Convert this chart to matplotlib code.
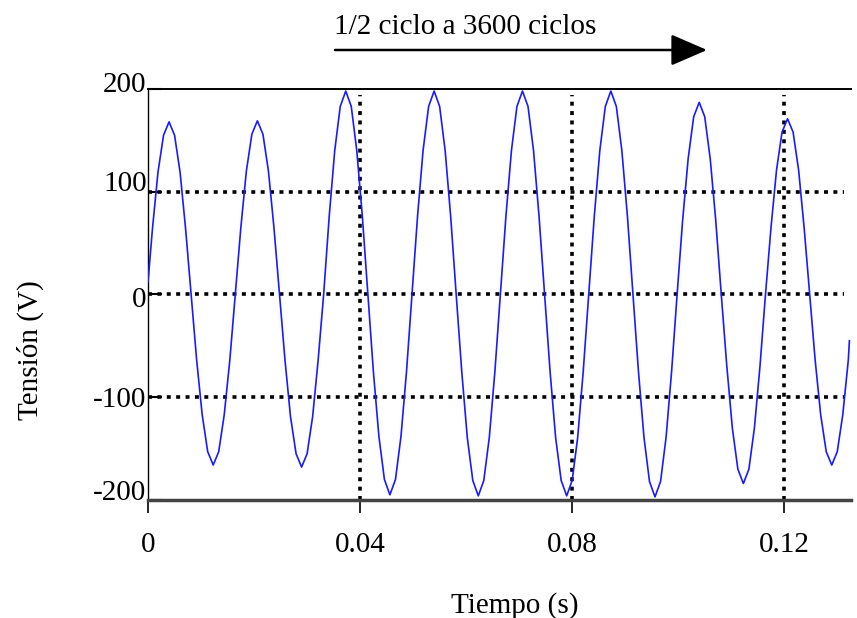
import matplotlib
matplotlib.use("Agg")
import matplotlib.pyplot as plt
import matplotlib.transforms as mtransforms

plt.rcParams['font.family'] = ['Liberation Serif', 'DejaVu Serif']

# muestras (s, V)
tiempo = [
    0.0, 0.00084, 0.00188, 0.00293, 0.00397, 0.00501, 0.00605, 0.00709,
    0.00813, 0.00918, 0.01022, 0.01126, 0.01230, 0.01334, 0.01438, 0.01543,
    0.01647, 0.01751, 0.01855, 0.01959, 0.02063, 0.02168, 0.02272, 0.02376,
    0.02480, 0.02584, 0.02688, 0.02793, 0.02897, 0.03001, 0.03105, 0.03209,
    0.03313, 0.03418, 0.03522, 0.03626, 0.03730, 0.03834, 0.03938, 0.04043,
    0.04147, 0.04251, 0.04355, 0.04459, 0.04563, 0.04668, 0.04772, 0.04876,
    0.04980, 0.05084, 0.05188, 0.05293, 0.05397, 0.05501, 0.05605, 0.05709,
    0.05813, 0.05918, 0.06022, 0.06126, 0.06230, 0.06334, 0.06438, 0.06543,
    0.06647, 0.06751, 0.06855, 0.06959, 0.07063, 0.07168, 0.07272, 0.07376,
    0.07480, 0.07584, 0.07688, 0.07793, 0.07897, 0.08001, 0.08105, 0.08209,
    0.08313, 0.08418, 0.08522, 0.08626, 0.08730, 0.08834, 0.08938, 0.09043,
    0.09147, 0.09251, 0.09355, 0.09459, 0.09563, 0.09668, 0.09772, 0.09876,
    0.09980, 0.10084, 0.10188, 0.10293, 0.10397, 0.10501, 0.10605, 0.10709,
    0.10813, 0.10918, 0.11022, 0.11126, 0.11230, 0.11334, 0.11438, 0.11543,
    0.11647, 0.11751, 0.11855, 0.11959, 0.12063, 0.12168, 0.12272, 0.12376,
    0.12480, 0.12584, 0.12688, 0.12793, 0.12897, 0.13001, 0.13105, 0.13209,
    0.1323,
]
tension = [
    12, 64, 119, 155, 168, 155, 119, 64,
    0, -64, -117, -153, -166, -153, -117, -64,
    0, 65, 120, 156, 169, 156, 120, 65,
    0, -64, -119, -155, -168, -155, -119, -64,
    0, 76, 140, 183, 198, 183, 140, 76,
    0, -75, -138, -180, -195, -180, -138, -75,
    0, 76, 140, 183, 198, 183, 140, 76,
    0, -75, -139, -181, -196, -181, -139, -75,
    0, 76, 140, 183, 198, 183, 140, 76,
    0, -75, -139, -181, -196, -181, -139, -75,
    0, 76, 140, 183, 198, 183, 140, 76,
    0, -75, -139, -182, -197, -182, -139, -75,
    0, 72, 132, 173, 187, 173, 132, 72,
    0, -70, -130, -170, -184, -170, -130, -70,
    0, 65, 121, 158, 171, 158, 121, 65,
    0, -64, -117, -153, -166, -153, -117, -64,
    -45,
]

x_ticks = [0, 0.04, 0.08, 0.12]
x_tick_labels = ["0", "0.04", "0.08", "0.12"]
y_ticks = [200, 100, 0, -100, -200]
y_tick_labels = ["200", "100", "0", "-100", "-200"]
grid_y = [100, 0, -100]
grid_x = [0.04, 0.08, 0.12]


def main():
    fig = plt.figure(figsize=(8.57, 6.18), dpi=100)
    ax = fig.add_axes([0.1727, 0.191, 0.8203, 0.665])

    ax.plot(tiempo, tension, color="#1a1aff", lw=1.2, zorder=3)

    # rejilla punteada
    dots = (0, (1.1, 1.5))
    for yv in grid_y:
        ax.axhline(yv, xmin=0, xmax=0.99, color="black", lw=2.6, ls=dots, zorder=2)
    for xv in grid_x:
        ax.axvline(xv, ymin=0, ymax=0.985, color="black", lw=2.6, ls=dots, zorder=2)

    ax.set_xlim(0, 0.1326)
    ax.set_ylim(-200, 200)

    ax.spines["right"].set_visible(False)
    ax.spines["top"].set_linewidth(1.4)
    ax.spines["left"].set_linewidth(1.0)
    ax.spines["bottom"].set_linewidth(2.5)
    ax.spines["bottom"].set_color("#444444")

    ax.set_xticks(x_ticks)
    ax.set_xticklabels(x_tick_labels)
    ax.set_yticks(y_ticks)
    ax.set_yticklabels(y_tick_labels)
    ax.tick_params(axis="x", direction="out", length=9, width=1.2, pad=14, labelsize=21)
    ax.tick_params(axis="y", direction="in", length=10, width=1.5, pad=1, labelsize=21)

    # las etiquetas del eje y no quedan todas centradas en su linea
    offsets = [7, 11, -3, 0, 10]
    for lab, dy in zip(ax.get_yticklabels(), offsets):
        lab.set_transform(lab.get_transform() + mtransforms.ScaledTranslation(0, dy / 100, fig.dpi_scale_trans))

    fig.text(30 / 857, 1 - 350 / 618, "Tensión (V)", rotation=90, ha="center", va="center", fontsize=21)
    fig.text(515 / 857, 1 - 606 / 618, "Tiempo (s)", ha="center", va="center", fontsize=21)

    fig.text(334 / 857, 1 - 27 / 618, "1/2 ciclo a 3600 ciclos", ha="left", va="center", fontsize=21)
    ax.annotate("", xy=(707 / 857, 1 - 50 / 618), xytext=(335 / 857, 1 - 50 / 618),
                xycoords="figure fraction", textcoords="figure fraction",
                arrowprops=dict(arrowstyle="-|>,head_length=1.5,head_width=0.65",
                                mutation_scale=15, lw=1.8, color="black",
                                shrinkA=0, shrinkB=0))

    fig.savefig("out.png", dpi=100)


if __name__ == "__main__":
    main()
